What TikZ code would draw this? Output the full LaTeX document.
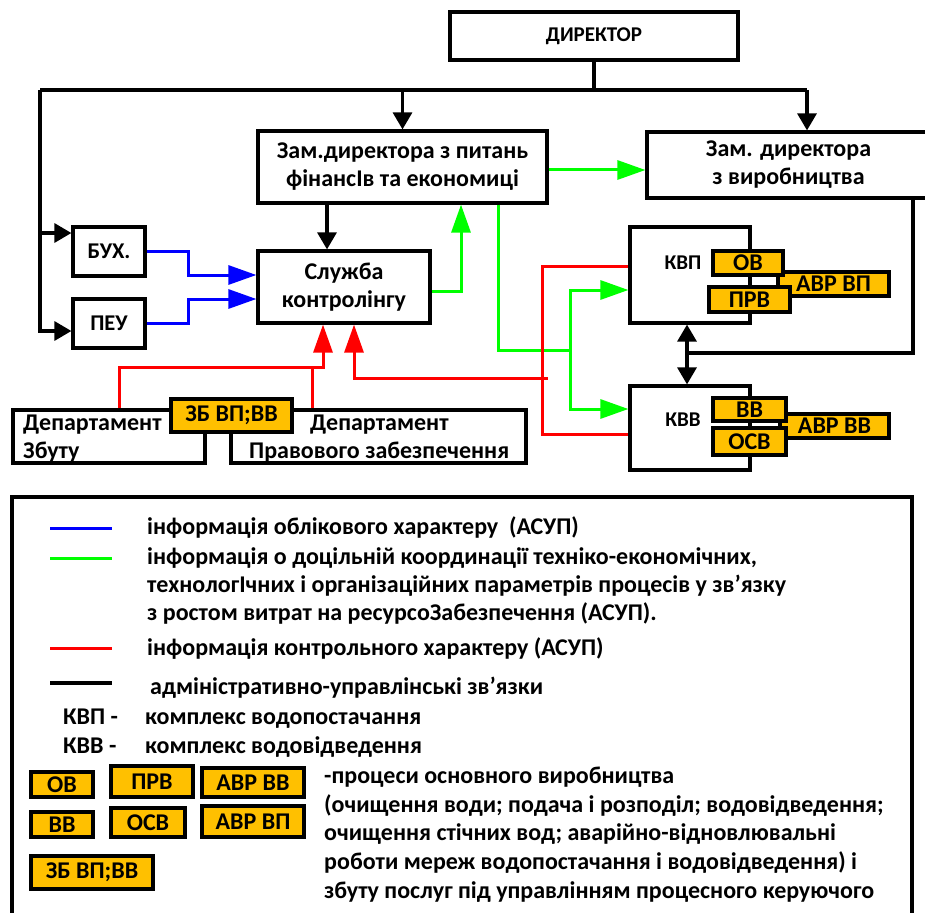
\documentclass[tikz,border=0pt]{standalone}
\usepackage{fontspec}
\setmainfont{Carlito}
\usetikzlibrary{arrows.meta}
\definecolor{procorange}{RGB}{255,192,0}
\definecolor{infoblue}{RGB}{0,0,255}
\definecolor{infogreen}{RGB}{0,255,0}
\definecolor{infored}{RGB}{255,0,0}
\tikzset{
	unitbox/.style={draw, line width=3.2pt, inner sep=0pt, align=center},
	procbox/.style={draw, fill=procorange, line width=3.2pt, inner sep=0pt},
	admline/.style={line width=3.2pt, draw=black},
	admarrow/.style={admline, -{Triangle[length=17pt,width=19pt]}},
	admboth/.style={admline, {Triangle[length=17pt,width=19pt]}-{Triangle[length=17pt,width=19pt]}},
	blueline/.style={line width=3pt, draw=infoblue},
	bluearrow/.style={blueline, -{Triangle[length=28pt,width=19pt]}},
	greenline/.style={line width=3pt, draw=infogreen},
	greenarrow/.style={greenline, -{Triangle[length=28pt,width=19pt]}},
	redline/.style={line width=3pt, draw=infored},
	redarrow/.style={redline, -{Triangle[length=28pt,width=19pt]}},
	txt/.style={inner sep=0pt, anchor=base west},
	smalltxt/.style={font=\fontsize{21}{26}\selectfont\bfseries}
}
\begin{document}
\begin{tikzpicture}[x=1pt, y=-1pt, every node/.style={font=\fontsize{24}{28}\selectfont\bfseries}]
	%%%%% FRAME %%%%%
	\useasboundingbox (0,0) rectangle (925,912);
	\clip (0,0) rectangle (925,912);
	
	%%%%% UNITS %%%%%
	\node[unitbox, minimum width=288pt, minimum height=48pt, smalltxt] (dir) at (594,36) {ДИРЕКТОР};
	\node[unitbox, minimum width=289pt, minimum height=72pt] (fin) at (402.5,167) {Зам.директора з питань\\фінансІв та економиці};
	\node[unitbox, minimum width=283pt, minimum height=66pt] (prod) at (788.5,165) {Зам. директора\\з виробництва};
	\node[unitbox, minimum width=72pt, minimum height=49pt, font=\fontsize{22.5}{26}\selectfont\bfseries] (buh) at (109,251.5) {БУХ.};
	\node[unitbox, minimum width=72pt, minimum height=49pt, font=\fontsize{22.5}{26}\selectfont\bfseries] (peu) at (109,323.5) {ПЕУ};
	\node[unitbox, minimum width=172pt, minimum height=72pt] (ctrl) at (344,287) {Служба\\контролінгу};
	
	\node[unitbox, minimum width=120pt, minimum height=96pt] (kvp) at (690,275) {};
	\node[smalltxt, anchor=base, inner sep=0pt] (kvptxt) at (683,269) {КВП};
	\node[unitbox, minimum width=120pt, minimum height=84pt] (kvv) at (690,428) {};
	\node[smalltxt, anchor=base, inner sep=0pt] (kvvtxt) at (683,426) {КВВ};
	
	\node[procbox, minimum width=111pt, minimum height=24pt] (avrvp) at (833.5,284) {АВР ВП};
	\node[procbox, minimum width=70pt, minimum height=24pt] (ov) at (748,263) {ОВ};
	\node[procbox, minimum width=81pt, minimum height=25pt] (prv) at (749.5,299.5) {ПРВ};
	\node[procbox, minimum width=109pt, minimum height=24pt] (avrvv) at (834.5,426) {АВР ВВ};
	\node[procbox, minimum width=73pt, minimum height=23pt] (vv) at (749.5,409.5) {ВВ};
	\node[procbox, minimum width=73pt, minimum height=27pt] (osv) at (749.5,441.5) {ОСВ};
	
	\node[unitbox, minimum width=192pt, minimum height=53pt] (zbyt) at (109,436.5) {};
	\node[txt] (zbyt1) at (23,430) {Департамент};
	\node[txt] (zbyt2) at (23,458) {Збуту};
	\node[unitbox, minimum width=295pt, minimum height=53pt] (prav) at (378.5,436.5) {};
	\node[txt] (prav1) at (310,430) {Департамент};
	\node[txt] (prav2) at (249,458) {Правового забезпечення};
	\node[procbox, minimum width=121pt, minimum height=33pt] (zb) at (231.5,415.5) {ЗБ ВП;ВВ};
	
	%%%%% ADMINISTRATIVE LINKS %%%%%
	\coordinate (busL) at (40,90);
	\coordinate (busR) at (807,90);
	\coordinate (buhIn) at ([yshift=18.5pt]buh.west);
	\coordinate (peuIn) at ([yshift=-7.5pt]peu.west);
	\coordinate (ctrlIn) at ([xshift=-17pt]ctrl.north);
	\coordinate (prodOut) at ([xshift=124.5pt]prod.south);
	\coordinate (kJ) at (687,353);
	
	\draw[admline] (dir.south) -- (dir.south |- busL);
	\draw[admline] (busL) -- (busR);
	\draw[admarrow] (busR) -- (busR |- prod.north);
	\draw[admarrow] (fin.north |- busL) -- (fin.north);
	\draw[admarrow] (busL) |- (peuIn);
	\draw[admarrow] (busL |- buhIn) -- (buhIn);
	\draw[admarrow] (ctrlIn |- fin.south) -- (ctrlIn);
	\draw[admline] (prodOut) |- (kJ);
	\draw[admboth] (kJ |- kvp.south) -- (kJ |- kvv.north);
	
	%%%%% ACCOUNTING INFO %%%%%
	\draw[bluearrow] (buh.east) -- ++(42,0) |- ([yshift=12pt]ctrl.west);
	\draw[bluearrow] (peu.east) -- ++(42,0) |- ([yshift=-12pt]ctrl.west);
	
	%%%%% COORDINATION INFO %%%%%
	\coordinate (finInG) at ([xshift=58.5pt]fin.south);
	\coordinate (finOutG) at ([xshift=95.5pt]fin.south);
	\coordinate (gMid) at (570,350);
	\coordinate (kvpInG) at ([yshift=-15pt]kvp.west);
	\coordinate (kvvInG) at ([yshift=19pt]kvv.west);
	\coordinate (finSide) at ([yshift=-3pt]fin.east);
	
	\draw[greenarrow] ([yshift=-4pt]ctrl.east) -| (finInG);
	\draw[greenarrow] (finSide) -- (finSide -| prod.west);
	\draw[greenline] (finOutG) |- (gMid);
	\draw[greenarrow] (gMid) |- (kvpInG);
	\draw[greenarrow] (gMid) |- (kvvInG);
	
	%%%%% CONTROL INFO %%%%%
	\coordinate (kvpInR) at ([yshift=9pt]kvp.west);
	\coordinate (kvvInR) at ([yshift=-6pt]kvv.west);
	\coordinate (redX) at (542,350);
	\coordinate (redTap) at (548,378);
	\coordinate (redJ) at (323,367);
	\coordinate (zbytOut) at ([xshift=10pt]zbyt.north);
	\coordinate (pravOut) at ([xshift=-66.5pt]prav.north);
	
	\draw[redline] (kvpInR) -| (redX) |- (kvvInR);
	\draw[redarrow] (redTap) -| ([xshift=10pt]ctrl.south);
	\draw[redarrow] (zbytOut) |- (redJ) -- (redJ |- ctrl.south);
	\draw[redline] (pravOut) -- (pravOut |- redJ);
	
	%%%%% LEGEND %%%%%
	\draw[line width=3.2pt] (12,497) rectangle (912,940);
	
	\draw[blueline] (50,528) -- (112,528);
	\draw[greenline] (50,558) -- (112,558);
	\draw[redline] (50,648) -- (112,648);
	\draw[admline] (50,683) -- (112,683);
	
	\node[txt] (lgblue) at (147,534) {інформація облікового характеру~ (АСУП)};
	\node[txt] (lggreen1) at (147,564) {інформація о доцільній координації техніко-економічних,};
	\node[txt] (lggreen2) at (147,592) {технологІчних і організаційних параметрів процесів у зв’язку};
	\node[txt] (lggreen3) at (147,620) {з ростом витрат на ресурсоЗабезпечення (АСУП).};
	\node[txt] (lgred) at (147,655) {інформація контрольного характеру (АСУП)};
	\node[txt] (lgadm) at (150,694) {адміністративно-управлінські зв’язки};
	\node[txt] (lgkvp) at (63,724) {КВП -};
	\node[txt] (lgkvpt) at (145,724) {комплекс водопостачання};
	\node[txt] (lgkvv) at (63,753) {КВВ -};
	\node[txt] (lgkvvt) at (145,753) {комплекс водовідведення};
	
	\node[procbox, minimum width=62pt, minimum height=25pt] (lgov) at (62,784.5) {ОВ};
	\node[procbox, minimum width=82pt, minimum height=31pt] (lgprv) at (152,781.5) {ПРВ};
	\node[procbox, minimum width=102pt, minimum height=29pt] (lgavrvv) at (253,782.5) {АВР ВВ};
	\node[procbox, minimum width=62pt, minimum height=25pt] (lgvv) at (62,824.5) {ВВ};
	\node[procbox, minimum width=74pt, minimum height=29pt] (lgosv) at (148,822.5) {ОСВ};
	\node[procbox, minimum width=102pt, minimum height=31pt] (lgavrvp) at (253,821.5) {АВР ВП};
	\node[procbox, minimum width=122pt, minimum height=33pt] (lgzb) at (92,872.5) {ЗБ ВП;ВВ};
	
	\node[txt] (lgproc1) at (324,783) {-процеси основного виробництва};
	\node[txt] (lgproc2) at (324,812) {(очищення води; подача і розподіл; водовідведення;};
	\node[txt] (lgproc3) at (324,840) {очищення стічних вод; аварійно-відновлювальні};
	\node[txt] (lgproc4) at (324,869) {роботи мереж водопостачання і водовідведення) і};
	\node[txt] (lgproc5) at (324,898) {збуту послуг під управлінням процесного керуючого};
\end{tikzpicture}
\end{document}
